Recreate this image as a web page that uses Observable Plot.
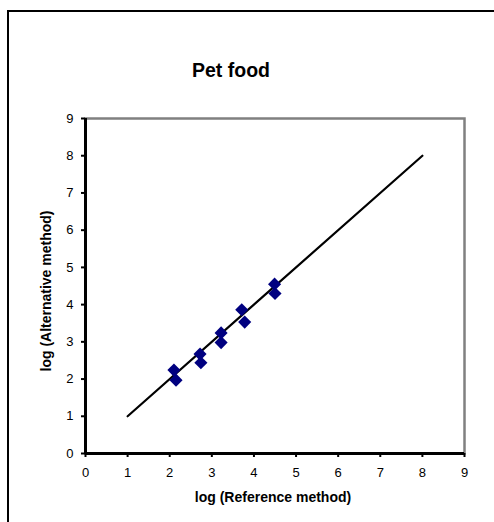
<!DOCTYPE html>
<html>
<head>
<meta charset="utf-8">
<script src="https://cdn.jsdelivr.net/npm/d3@7"></script>
<script src="https://cdn.jsdelivr.net/npm/@observablehq/plot@0.6"></script>
<style>
  html, body { margin: 0; padding: 0; background: #fff; overflow: hidden; }
  #wrap { position: relative; width: 494px; height: 522px; overflow: hidden; background: #fff; }
  #frame { position: absolute; left: 7px; top: 10px; width: 700px; height: 700px; border: 2px solid #000; box-sizing: border-box; }
  #chart { position: absolute; left: 0; top: 0; }
</style>
</head>
<body>
<div id="wrap"><div id="frame"></div><div id="chart"></div></div>
<script>
const titleText = ["Pet food"];
const xLabel = ["log (Reference method)"];
const yLabel = ["log (Alternative method)"];
const ticks = [0, 1, 2, 3, 4, 5, 6, 7, 8, 9];

// Measured pairs (log reference, log alternative)
const refValues = [2.10, 2.15, 2.72, 2.74, 3.22, 3.22, 3.71, 3.78, 4.49, 4.50];
const altValues = [2.24, 1.97, 2.67, 2.44, 3.24, 2.98, 3.86, 3.53, 4.55, 4.30];

// Line of equality
const lineX = [1, 8];
const lineY = [1, 8];

const points = refValues.map((x, i) => ({x, y: altValues[i]}));
const lineData = lineX.map((x, i) => ({x, y: lineY[i]}));

const font = "'Liberation Sans', Arial, sans-serif";

const chart = Plot.plot({
  width: 494,
  height: 522,
  marginLeft: 85,
  marginRight: 30,
  marginTop: 118,
  marginBottom: 69,
  style: { fontFamily: font, background: "transparent", overflow: "visible" },
  x: { domain: [0, 9] },
  y: { domain: [0, 9] },
  marks: [
    Plot.frame({ stroke: "#808080", strokeWidth: 2.5 }),
    Plot.axisX({ ticks, tickSize: 4, tickPadding: 10, strokeWidth: 2, fontSize: 13, label: null, tickFormat: d => String(d) }),
    Plot.axisY({ ticks, tickSize: 4, tickPadding: 8, strokeWidth: 2, fontSize: 13, label: null, tickFormat: d => String(d) }),
    Plot.ruleX([0], { stroke: "#000", strokeWidth: 3 }),
    Plot.ruleY([0], { stroke: "#000", strokeWidth: 3 }),
    Plot.line(lineData, { x: "x", y: "y", stroke: "#000", strokeWidth: 2.2 }),
    Plot.dot(points, { x: "x", y: "y", symbol: "diamond2", r: 5.9, fill: "#000080", stroke: "none" }),
    Plot.text(titleText, { frameAnchor: "top", lineAnchor: "middle", textAnchor: "middle", dx: -44, dy: -48, fontSize: 19.5, fontWeight: "bold", fill: "#000" }),
    Plot.text(xLabel, { frameAnchor: "bottom", lineAnchor: "middle", textAnchor: "middle", dx: -2, dy: 44, fontSize: 14, fontWeight: "bold", fill: "#000" }),
    Plot.text(yLabel, { frameAnchor: "left", lineAnchor: "middle", textAnchor: "middle", rotate: -90, dx: -39, dy: 5, fontSize: 14, fontWeight: "bold", fill: "#000" })
  ]
});
document.getElementById("chart").appendChild(chart);
</script>
</body>
</html>
